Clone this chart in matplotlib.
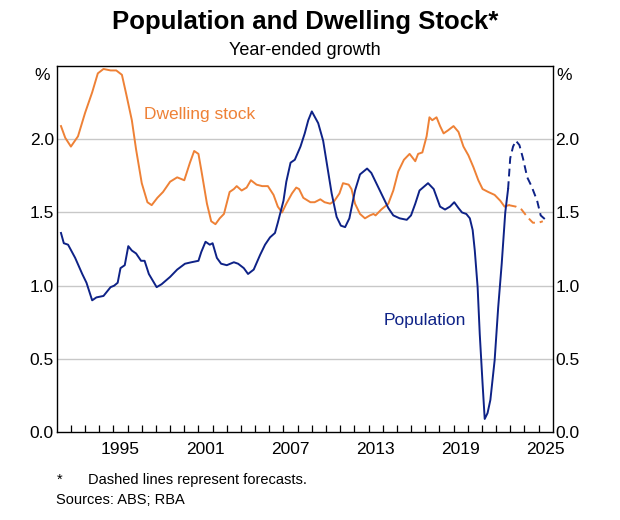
import matplotlib.pyplot as plt
from matplotlib.ticker import FixedLocator, FuncFormatter

plt.rcParams['font.family'] = ['Liberation Sans', 'DejaVu Sans']

# Dwelling stock, year-ended growth (%)
dwell_years = [1991.3, 1991.6, 1992.0, 1992.5, 1993.0, 1993.5, 1993.9, 1994.3, 1994.8, 1995.2,
               1995.6, 1995.9, 1996.3, 1996.6, 1997.0, 1997.4, 1997.7, 1998.1, 1998.5, 1999.0,
               1999.5, 2000.0, 2000.4, 2000.7, 2001.0, 2001.2, 2001.6, 2001.9, 2002.2, 2002.5,
               2002.8, 2003.2, 2003.5, 2003.7, 2004.05, 2004.4, 2004.7, 2005.1, 2005.5, 2005.9,
               2006.3, 2006.6, 2006.9, 2007.2, 2007.6, 2007.9, 2008.1, 2008.4, 2008.9, 2009.2,
               2009.6, 2009.9, 2010.3, 2010.6, 2010.95, 2011.2, 2011.6, 2011.8, 2012.05, 2012.4,
               2012.75, 2013.1, 2013.35, 2013.5, 2013.9, 2014.4, 2014.75, 2015.1, 2015.5, 2015.9,
               2016.3, 2016.5, 2016.8, 2017.1, 2017.3, 2017.5, 2017.8, 2018.05, 2018.3, 2018.6,
               2019.0, 2019.35, 2019.7, 2020.05, 2020.4, 2020.75, 2021.05, 2021.45, 2021.9, 2022.3,
               2022.6, 2022.9]
dwell_vals = [2.09, 2.01, 1.95, 2.02, 2.18, 2.32, 2.45, 2.48, 2.47, 2.47,
              2.44, 2.31, 2.13, 1.93, 1.70, 1.57, 1.55, 1.60, 1.64, 1.71,
              1.74, 1.72, 1.84, 1.92, 1.90, 1.79, 1.56, 1.44, 1.42, 1.46,
              1.49, 1.64, 1.66, 1.68, 1.65, 1.67, 1.72, 1.69, 1.68, 1.68,
              1.62, 1.54, 1.50, 1.56, 1.63, 1.67, 1.66, 1.60, 1.57, 1.57,
              1.59, 1.57, 1.56, 1.58, 1.63, 1.70, 1.69, 1.66, 1.56, 1.49,
              1.46, 1.48, 1.49, 1.48, 1.52, 1.56, 1.65, 1.78, 1.86, 1.90,
              1.85, 1.90, 1.91, 2.02, 2.15, 2.13, 2.15, 2.09, 2.04, 2.06,
              2.09, 2.05, 1.95, 1.89, 1.81, 1.72, 1.66, 1.64, 1.62, 1.58,
              1.54, 1.55]
dwell_fc_years = [2022.9, 2023.4, 2023.8, 2024.2, 2024.6, 2025.0, 2025.3]
dwell_fc_vals = [1.55, 1.54, 1.52, 1.47, 1.43, 1.43, 1.44]

# Population, year-ended growth (%)
pop_years = [1991.3, 1991.5, 1991.8, 1992.3, 1992.8, 1993.1, 1993.5, 1993.8, 1994.3, 1994.8,
             1995.05, 1995.3, 1995.5, 1995.8, 1996.05, 1996.3, 1996.6, 1996.95, 1997.2, 1997.5,
             1998.05, 1998.4, 1999.0, 1999.5, 2000.05, 2000.5, 2001.0, 2001.2, 2001.5, 2001.8,
             2002.0, 2002.3, 2002.6, 2003.0, 2003.5, 2003.8, 2004.2, 2004.5, 2004.9, 2005.35,
             2005.7, 2006.05, 2006.4, 2006.6, 2007.0, 2007.2, 2007.5, 2007.8, 2008.2, 2008.5,
             2008.75, 2009.0, 2009.45, 2009.8, 2010.05, 2010.4, 2010.75, 2011.05, 2011.35, 2011.65,
             2012.05, 2012.4, 2012.9, 2013.2, 2013.6, 2014.05, 2014.4, 2014.75, 2015.2, 2015.7,
             2016.0, 2016.3, 2016.6, 2017.2, 2017.6, 2018.05, 2018.4, 2018.75, 2019.05, 2019.35,
             2019.6, 2019.9, 2020.15, 2020.35, 2020.5, 2020.7, 2020.85, 2021.05, 2021.2, 2021.4,
             2021.6, 2021.9, 2022.15, 2022.4, 2022.65, 2022.85]
pop_vals = [1.36, 1.29, 1.28, 1.19, 1.08, 1.02, 0.90, 0.92, 0.93, 0.99,
            1.00, 1.02, 1.12, 1.14, 1.27, 1.24, 1.22, 1.17, 1.17, 1.08,
            0.99, 1.01, 1.06, 1.11, 1.15, 1.16, 1.17, 1.23, 1.30, 1.28,
            1.29, 1.19, 1.15, 1.14, 1.16, 1.15, 1.12, 1.08, 1.11, 1.21,
            1.28, 1.33, 1.36, 1.43, 1.58, 1.71, 1.84, 1.86, 1.95, 2.04,
            2.13, 2.19, 2.11, 1.99, 1.84, 1.63, 1.47, 1.41, 1.40, 1.46,
            1.65, 1.76, 1.80, 1.77, 1.69, 1.60, 1.53, 1.48, 1.46, 1.45,
            1.48, 1.56, 1.65, 1.70, 1.66, 1.54, 1.52, 1.54, 1.57, 1.53,
            1.50, 1.49, 1.46, 1.38, 1.24, 0.99, 0.67, 0.33, 0.09, 0.13,
            0.22, 0.49, 0.85, 1.15, 1.50, 1.66]
pop_fc_years = [2022.85, 2023.0, 2023.2, 2023.4, 2023.65, 2023.9, 2024.2, 2024.5, 2024.9, 2025.15, 2025.5]
pop_fc_vals = [1.66, 1.87, 1.95, 1.99, 1.96, 1.87, 1.74, 1.68, 1.58, 1.48, 1.45]

label_years = [1995, 2001, 2007, 2013, 2019, 2025]
y_ticks = [0.0, 0.5, 1.0, 1.5, 2.0]

orange = '#EE8136'
navy = '#0E2287'

fig = plt.figure(figsize=(6.2, 5.2), dpi=100)
ax = fig.add_axes([0.0915, 0.169, 0.8, 0.704])

for y in y_ticks[1:]:
    ax.axhline(y, color='#c8c8c8', lw=1.0, zorder=1)

ax.plot(dwell_years, dwell_vals, color=orange, lw=1.4, zorder=3)
ax.plot(dwell_fc_years, dwell_fc_vals, color=orange, lw=1.4, ls=(0, (4, 2.5)), zorder=3)
ax.plot(pop_years, pop_vals, color=navy, lw=1.4, zorder=4)
ax.plot(pop_fc_years, pop_fc_vals, color=navy, lw=1.4, ls=(0, (4, 2.5)), zorder=4)

ax.set_xlim(1991, 2026)
ax.set_ylim(0, 2.5)

# year labels sit in the middle of each year, tick marks on year boundaries
ax.xaxis.set_major_locator(FixedLocator([y + 0.5 for y in label_years]))
ax.xaxis.set_major_formatter(FuncFormatter(lambda v, p: str(int(v))))
ax.xaxis.set_minor_locator(FixedLocator(range(1992, 2026)))
ax.tick_params(axis='x', which='major', length=0, labelsize=12.5, pad=7)
ax.tick_params(axis='x', which='minor', direction='in', length=5, width=0.9)

ax.set_yticks(y_ticks)
ax.yaxis.set_major_formatter(FuncFormatter(lambda v, p: f'{v:.1f}'))
ax.tick_params(axis='y', length=0, labelsize=12.5, labelright=True, pad=2)

for s in ax.spines.values():
    s.set_linewidth(1.0)

ax.text(2001.1, 2.17, 'Dwelling stock', color=orange, fontsize=12.5, ha='center', va='center')
ax.text(2017.0, 0.765, 'Population', color=navy, fontsize=12.5, ha='center', va='center')

fig.text(0.0805, 0.855, '%', fontsize=12.5, ha='right', va='center')
fig.text(0.898, 0.855, '%', fontsize=12.5, ha='left', va='center')

fig.text(0.492, 0.957, 'Population and Dwelling Stock*', fontsize=18.5, fontweight='bold',
         ha='center', va='center')
fig.text(0.492, 0.903, 'Year-ended growth', fontsize=13, ha='center', va='center')

fig.text(0.092, 0.078, '*', fontsize=10.5, ha='left', va='center')
fig.text(0.142, 0.077, 'Dashed lines represent forecasts.', fontsize=10.5, ha='left', va='center')
fig.text(0.090, 0.038, 'Sources: ABS; RBA', fontsize=10.5, ha='left', va='center')

fig.savefig('out.png', dpi=100)
